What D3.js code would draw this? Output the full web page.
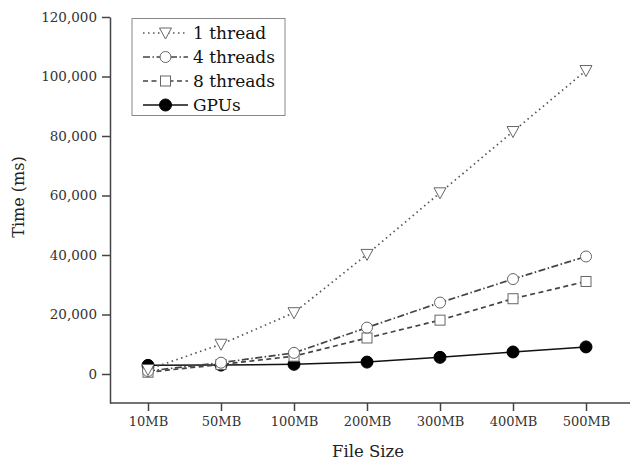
<!DOCTYPE html>
<html>
<head>
<meta charset="utf-8">
<script src="https://d3js.org/d3.v7.min.js"></script>
<style>
  body { margin: 0; background: #fff; }
  text { font-family: "DejaVu Serif", serif; }
</style>
</head>
<body>
<div id="chart"></div>
<script>
// data
const fileSizes = ["10MB", "50MB", "100MB", "200MB", "300MB", "400MB", "500MB"];
const oneThread = [1500, 10000, 20600, 40200, 60900, 81500, 102000];
const fourThreads = [1000, 3800, 7100, 15600, 24000, 31900, 39500];
const eightThreads = [600, 3200, 6000, 12100, 18100, 25300, 31100];
const gpus = [2900, 3000, 3250, 4000, 5600, 7400, 9100];
const yTicks = [0, 20000, 40000, 60000, 80000, 100000, 120000];

const series = [
  { name: "1 thread", values: oneThread, dash: "1.5,3.5", marker: "tri", color: "#555" },
  { name: "4 threads", values: fourThreads, dash: "7,2.5,1.5,2.5", marker: "circle", color: "#444" },
  { name: "8 threads", values: eightThreads, dash: "5,3.5", marker: "square", color: "#444" },
  { name: "GPUs", values: gpus, dash: null, marker: "dot", color: "#111" }
];

const width = 636, height = 462;
const svg = d3.select("#chart").append("svg")
  .attr("width", width)
  .attr("height", height);

const x = d3.scalePoint().domain(fileSizes).range([148, 586]);
const y = d3.scaleLinear().domain([-9750, 120000]).range([403, 17]);

// y axis
const yAxis = svg.append("g")
  .attr("transform", "translate(110,0)")
  .call(d3.axisLeft(y).tickValues(yTicks).tickSize(8).tickSizeOuter(0).tickPadding(5)
    .tickFormat(d3.format(",")));
yAxis.selectAll("text").attr("font-size", 13.5).attr("fill", "#333").attr("font-family", "DejaVu Serif");
yAxis.selectAll("line, path").attr("stroke", "#444").attr("stroke-width", 1.5);

// x axis
const xAxis = svg.append("g")
  .attr("transform", "translate(0,403)")
  .call(d3.axisBottom(x).tickSize(8).tickSizeOuter(0).tickPadding(6));
xAxis.select(".domain").attr("d", "M110,0H630");
xAxis.selectAll("text").attr("font-size", 13).attr("fill", "#333").attr("font-family", "DejaVu Serif");
xAxis.selectAll("line, path").attr("stroke", "#444").attr("stroke-width", 1.5);

// axis titles
svg.append("text")
  .attr("x", 368).attr("y", 457)
  .attr("text-anchor", "middle")
  .attr("font-size", 16.5).attr("fill", "#222")
  .text("File Size");

svg.append("text")
  .attr("transform", "translate(24,197) rotate(-90)")
  .attr("text-anchor", "middle")
  .attr("font-size", 16).attr("fill", "#222")
  .text("Time (ms)");

const drawMarker = (g, kind, cx, cy, color) => {
  if (kind === "tri") {
    g.append("path")
      .attr("d", `M${cx - 6},${cy - 5}L${cx + 6},${cy - 5}L${cx},${cy + 6}Z`)
      .attr("fill", "#fff").attr("stroke", color).attr("stroke-width", 1);
  } else if (kind === "circle") {
    g.append("circle").attr("cx", cx).attr("cy", cy).attr("r", 5.5)
      .attr("fill", "#fff").attr("stroke", color).attr("stroke-width", 1);
  } else if (kind === "square") {
    g.append("rect").attr("x", cx - 5).attr("y", cy - 5).attr("width", 10).attr("height", 10)
      .attr("fill", "#fff").attr("stroke", color).attr("stroke-width", 1);
  } else {
    g.append("circle").attr("cx", cx).attr("cy", cy).attr("r", 6)
      .attr("fill", "#000").attr("stroke", "#000");
  }
};

const line = d3.line()
  .x((d, i) => x(fileSizes[i]))
  .y(d => y(d));

// draw in reverse so GPUs sit on top at the left
series.slice().reverse().forEach(s => {
  const g = svg.append("g");
  g.append("path")
    .datum(s.values)
    .attr("d", line)
    .attr("fill", "none")
    .attr("stroke", s.color)
    .attr("stroke-width", s.dash ? 1.7 : 1.5)
    .attr("stroke-dasharray", s.dash);
  s.values.forEach((v, i) => drawMarker(g, s.marker, x(fileSizes[i]), y(v), s.marker === "dot" ? "#000" : "#666"));
});

// legend
const legend = svg.append("g");
legend.append("rect")
  .attr("x", 132).attr("y", 18.5)
  .attr("width", 153).attr("height", 97)
  .attr("fill", "#fff").attr("stroke", "#888").attr("stroke-width", 1);

series.forEach((s, i) => {
  const cy = 33 + i * 24;
  legend.append("line")
    .attr("x1", 143).attr("x2", 188).attr("y1", cy).attr("y2", cy)
    .attr("stroke", s.color).attr("stroke-width", s.dash ? 1.7 : 1.5)
    .attr("stroke-dasharray", s.dash);
  drawMarker(legend, s.marker, 165.5, cy, s.marker === "dot" ? "#000" : "#666");
  legend.append("text")
    .attr("x", 193).attr("y", cy + 6)
    .attr("font-size", 17).attr("fill", "#111")
    .text(s.name);
});
</script>
</body>
</html>
